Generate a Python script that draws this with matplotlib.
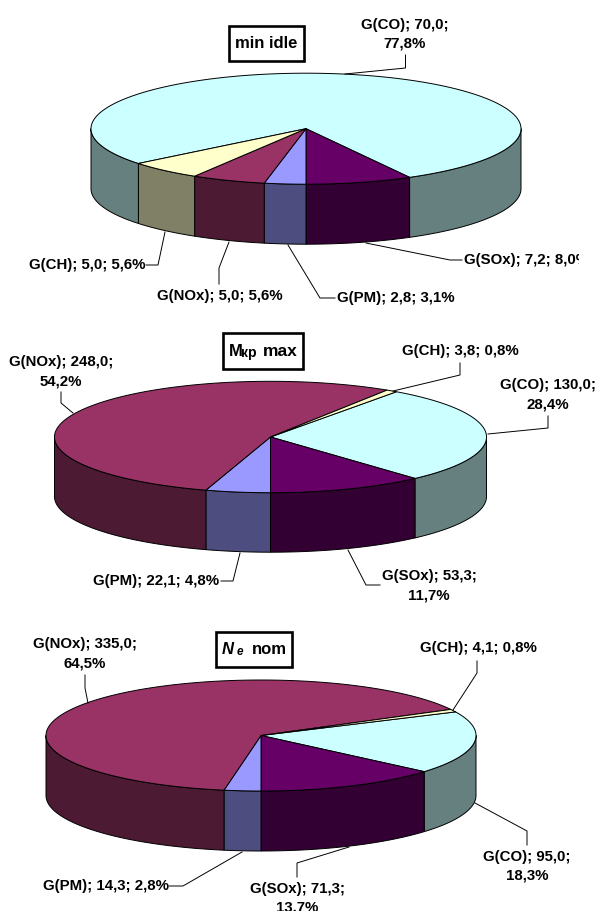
import numpy as np
import matplotlib
matplotlib.use("Agg")
import matplotlib.pyplot as plt
from matplotlib.patches import Polygon, Rectangle

plt.rcParams['font.family'] = ['Liberation Sans', 'DejaVu Sans']

# ---- data ----
series = ["G(CO)", "G(SOx)", "G(PM)", "G(NOx)", "G(CH)"]
values_idle = [70.0, 7.2, 2.8, 5.0, 5.0]
values_mkr = [130.0, 53.3, 22.1, 248.0, 3.8]
values_ne = [95.0, 71.3, 14.3, 335.0, 4.1]
percent_idle = [77.8, 8.0, 3.1, 5.6, 5.6]
percent_mkr = [28.4, 11.7, 4.8, 54.2, 0.8]
percent_ne = [18.3, 13.7, 2.8, 64.5, 0.8]

# ---- styles ----
top_colors = ["#CCFFFF", "#660066", "#9999FF", "#993366", "#FFFFCC"]
side_colors = ["#668080", "#330033", "#4D4D80", "#4D1A33", "#808066"]
FS = 10.8
CLIP_RIGHT = 579

# label layout: text anchor (x, y, ha) + whether value wraps + leader polyline
idle_layout = dict(
    geom=(306, 128.7, 215, 55.5, 60), box=(229, 26, 304, 61),
    labels={
        0: dict(xy=(405, 24.5), ha='center', wrap=True, leader=[(345, 74), (405.5, 68), (405.5, 55)]),
        1: dict(xy=(464, 260), ha='left', wrap=False, leader=[(366, 243), (450, 260), (462, 260)]),
        2: dict(xy=(337, 298), ha='left', wrap=False, leader=[(288, 245), (320, 298), (335, 298)]),
        3: dict(xy=(157, 296), ha='left', wrap=False, leader=[(229, 242), (219, 268), (219, 284)]),
        4: dict(xy=(29, 265), ha='left', wrap=False, leader=[(165, 232), (158, 265), (146, 265)]),
    })
mkr_layout = dict(
    geom=(270.5, 437, 216, 55.7, 59.5), box=(223, 333, 302.5, 368.5),
    labels={
        0: dict(xy=(548, 385.5), ha='center', wrap=True, leader=[(488, 434), (548, 428), (548, 416)]),
        1: dict(xy=(429, 576), ha='center', wrap=True, leader=[(348, 550), (366, 585), (380, 585)]),
        2: dict(xy=(93, 581), ha='left', wrap=False, leader=[(240, 553), (233, 581), (221, 581)]),
        3: dict(xy=(61, 362), ha='center', wrap=True, leader=[(73, 413), (61, 403), (61, 392)]),
        4: dict(xy=(402, 351), ha='left', wrap=False, leader=[(393, 391), (460, 375), (460, 363)]),
    })
ne_layout = dict(
    geom=(261, 735.5, 215, 55.5, 60), box=(216, 632, 292, 667),
    labels={
        0: dict(xy=(527, 857), ha='center', wrap=True, leader=[(475, 803), (527, 831), (527, 845)]),
        1: dict(xy=(297, 889), ha='center', wrap=True, leader=[(349, 847), (297, 863), (297, 877)]),
        2: dict(xy=(43, 886), ha='left', wrap=False, leader=[(242, 852), (183, 886), (169, 886)]),
        3: dict(xy=(85, 644), ha='center', wrap=True, leader=[(88, 703), (85, 688), (85, 675)]),
        4: dict(xy=(420, 648), ha='left', wrap=False, leader=[(453, 710), (477, 673), (477, 661)]),
    })

fig = plt.figure(figsize=(5.99, 9.11), dpi=100)
ax = fig.add_axes([0, 0, 1, 1])
ax.set_xlim(0, 599)
ax.set_ylim(911, 0)
ax.axis('off')


def rim(cx, cy, a, b, t0, t1):
    t = np.radians(np.linspace(t0, t1, max(int(abs(t1 - t0)) * 2, 2) + 1))
    return cx + a * np.sin(t), cy - b * np.cos(t)


def fmt(v):
    return f"{v:.1f}".replace('.', ',')


def draw_pie(values, percents, layout):
    cx, cy, a, b, d = layout['geom']
    vals = np.asarray(values, float)
    sweep = vals / vals.sum() * 360
    # second slice always ends at the front (180 deg)
    start = 180 - sweep[0] - sweep[1]
    edges = start + np.concatenate(([0], np.cumsum(sweep)))
    # side walls
    for i in range(len(vals)):
        for shift in (-360, 0, 360):
            t0 = max(edges[i] + shift, 90)
            t1 = min(edges[i + 1] + shift, 270)
            if t1 <= t0:
                continue
            x, y = rim(cx, cy, a, b, t0, t1)
            pts = np.r_[np.c_[x, y], np.c_[x[::-1], y[::-1] + d]]
            ax.add_patch(Polygon(pts, closed=True, fc=side_colors[i], ec='black',
                                 lw=0.7, joinstyle='round', zorder=2))
    # top faces
    for i in range(len(vals)):
        x, y = rim(cx, cy, a, b, edges[i], edges[i + 1])
        pts = np.r_[[[cx, cy]], np.c_[x, y]]
        ax.add_patch(Polygon(pts, closed=True, fc=top_colors[i], ec='black',
                             lw=0.7, joinstyle='round', zorder=3))
    # labels
    for i, spec in layout['labels'].items():
        head = f"{series[i]}; {fmt(values[i])};"
        tail = f"{fmt(percents[i])}%"
        x, y = spec['xy']
        if spec['wrap']:
            ax.text(x, y, head, ha='center', va='center', fontsize=FS, fontweight='bold', zorder=5)
            ax.text(x, y + 19, tail, ha='center', va='center', fontsize=FS, fontweight='bold', zorder=5)
        else:
            t = ax.text(x, y, f"{head} {tail}", ha=spec['ha'], va='center', fontsize=FS,
                        fontweight='bold', zorder=5, clip_on=True)
            t.set_clip_path(Rectangle((0, 0), CLIP_RIGHT, 911, transform=ax.transData))
        lx, ly = zip(*spec['leader'])
        ax.plot(lx, ly, color='black', lw=0.7, zorder=4, solid_joinstyle='miter')
    # title box
    x0, y0, x1, y1 = layout['box']
    ax.add_patch(Rectangle((x0, y0), x1 - x0, y1 - y0, fc='white', ec='black', lw=1.9, zorder=5))


draw_pie(values_idle, percent_idle, idle_layout)
draw_pie(values_mkr, percent_mkr, mkr_layout)
draw_pie(values_ne, percent_ne, ne_layout)

TFS = 12
ax.text(266.5, 44, "min idle", ha='center', va='center', fontsize=TFS, fontweight='bold', zorder=6)
ax.text(229, 352, "M", ha='left', va='center', fontsize=TFS, fontweight='bold', zorder=6)
ax.text(241.5, 353, "кр", ha='left', va='center', fontsize=10, fontweight='bold', zorder=6)
ax.text(262.5, 352, "max", ha='left', va='center', fontsize=12.5, fontweight='bold', zorder=6)
ax.text(222, 650, "N", ha='left', va='center', fontsize=TFS, fontweight='bold', style='italic', zorder=6)
ax.text(237, 652, "e", ha='left', va='center', fontsize=8.5, fontweight='bold', style='italic', zorder=6)
ax.text(252, 650, "nom", ha='left', va='center', fontsize=TFS, fontweight='bold', zorder=6)

fig.savefig("out.png", dpi=100, facecolor='white')
